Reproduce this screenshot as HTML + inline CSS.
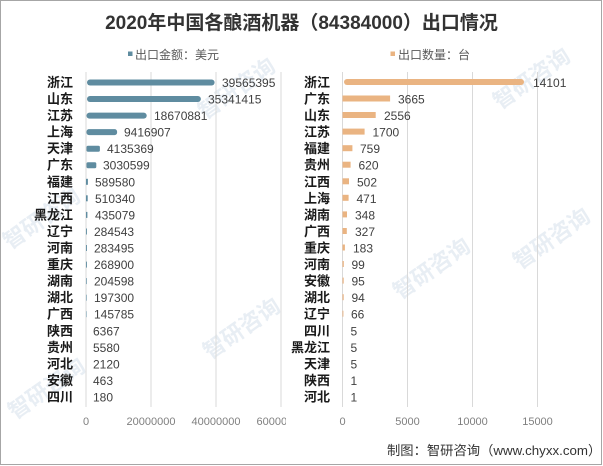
<!DOCTYPE html>
<html><head><meta charset="utf-8"><style>
html,body{margin:0;padding:0;background:#fff;}
svg{display:block;}
</style></head><body>
<svg width="603" height="466" viewBox="0 0 603 466" xmlns="http://www.w3.org/2000/svg" font-family="'Liberation Sans','Noto Sans CJK SC',sans-serif">
<rect x="0.5" y="0.5" width="601" height="464" fill="#fff" stroke="#a6a6a6" stroke-width="1"/>
<g fill="#dfe7f0" font-size="22" font-weight="bold" opacity="0.7">
<text transform="translate(205,120) rotate(-35)">智研咨询</text>
<text transform="translate(10,250) rotate(-35)">智研咨询</text>
<text transform="translate(15,420) rotate(-35)">智研咨询</text>
<text transform="translate(210,360) rotate(-35)">智研咨询</text>
<text transform="translate(400,300) rotate(-35)">智研咨询</text>
<text transform="translate(500,110) rotate(-35)">智研咨询</text>
<text transform="translate(520,270) rotate(-35)">智研咨询</text>
</g>
<text x="301.5" y="29" text-anchor="middle" font-size="19" font-weight="bold" fill="#333">2020年中国各酿酒机器（84384000）出口情况</text>
<rect x="128" y="51.5" width="4.5" height="4.5" fill="#5f8ca0"/>
<text x="135" y="59" font-size="12" fill="#595959">出口金额：美元</text>
<rect x="390.5" y="51.5" width="4.5" height="4.5" fill="#eab482"/>
<text x="398" y="59" font-size="12" fill="#595959">出口数量：台</text>
<g stroke="#d9d9d9" stroke-width="1">
<line x1="86" y1="72" x2="86" y2="407"/><line x1="151" y1="72" x2="151" y2="407"/><line x1="216" y1="72" x2="216" y2="407"/><line x1="281" y1="72" x2="281" y2="407"/>
<line x1="342.5" y1="72" x2="342.5" y2="407"/><line x1="407.5" y1="72" x2="407.5" y2="407"/><line x1="472.5" y1="72" x2="472.5" y2="407"/><line x1="537.5" y1="72" x2="537.5" y2="407"/>
</g>
<g font-size="11" fill="#7f7f7f" text-anchor="middle">
<text x="86" y="425">0</text><text x="151" y="425">20000000</text><text x="216" y="425">40000000</text>
<svg x="0" y="410" width="286" height="20" overflow="hidden"><text x="281" y="15" text-anchor="middle">60000000</text></svg>
<text x="342.5" y="425">0</text><text x="407.5" y="425">5000</text><text x="472.5" y="425">10000</text><text x="537.5" y="425">15000</text>
</g>
<g id="L"></g>
<g id="R"></g>
<text x="387" y="455" font-size="13.3" fill="#333">制图：智研咨询（www.chyxx.com）</text>
<g font-size="13" font-weight="bold" fill="#1a1a1a" text-anchor="end">
<text x="73" y="87">浙江</text><text x="73" y="103.5">山东</text><text x="73" y="120">江苏</text><text x="73" y="136.6">上海</text><text x="73" y="153.2">天津</text><text x="73" y="169.7">广东</text><text x="73" y="186.3">福建</text><text x="73" y="202.8">江西</text><text x="73" y="219.4">黑龙江</text><text x="73" y="236">辽宁</text><text x="73" y="252.5">河南</text><text x="73" y="269">重庆</text><text x="73" y="285.6">湖南</text><text x="73" y="302.2">湖北</text><text x="73" y="318.7">广西</text><text x="73" y="335.3">陕西</text><text x="73" y="351.8">贵州</text><text x="73" y="368.4">河北</text><text x="73" y="385">安徽</text><text x="73" y="401.5">四川</text>
<text x="330" y="87">浙江</text><text x="330" y="103.5">广东</text><text x="330" y="120">山东</text><text x="330" y="136.6">江苏</text><text x="330" y="153.2">福建</text><text x="330" y="169.7">贵州</text><text x="330" y="186.3">江西</text><text x="330" y="202.8">上海</text><text x="330" y="219.4">湖南</text><text x="330" y="236">广西</text><text x="330" y="252.5">重庆</text><text x="330" y="269">河南</text><text x="330" y="285.6">安徽</text><text x="330" y="302.2">湖北</text><text x="330" y="318.7">辽宁</text><text x="330" y="335.3">四川</text><text x="330" y="351.8">黑龙江</text><text x="330" y="368.4">天津</text><text x="330" y="385">陕西</text><text x="330" y="401.5">河北</text>
</g>
<!-- left bars -->
<g fill="#5f8ca0">
<rect x="87" y="79.5" width="127.6" height="6" rx="3"/>
<rect x="87" y="96" width="113.9" height="6" rx="3"/>
<rect x="86.5" y="112.6" width="60.2" height="6" rx="3"/>
<rect x="86.5" y="129.1" width="30.6" height="6" rx="2.5"/>
<rect x="86.5" y="145.7" width="13.4" height="6" rx="1.5"/>
<rect x="86.5" y="162.2" width="9.8" height="6" rx="1.5"/>
<rect x="86" y="178.8" width="1.9" height="6"/>
<rect x="86" y="195.3" width="1.7" height="6"/>
<rect x="86" y="211.9" width="1.4" height="6"/>
<rect x="86" y="228.5" width="0.9" height="6"/>
<rect x="86" y="245" width="0.9" height="6"/>
<rect x="86" y="261.6" width="0.9" height="6"/>
<rect x="86" y="278.1" width="0.7" height="6"/>
<rect x="86" y="294.7" width="0.6" height="6"/>
<rect x="86" y="311.2" width="0.5" height="6"/>
</g>
<g font-size="12" fill="#404040">
<text x="222" y="87">39565395</text><text x="208" y="103.5">35341415</text><text x="154" y="120">18670881</text><text x="124" y="136.6">9416907</text><text x="107" y="153.2">4135369</text><text x="103" y="169.7">3030599</text><text x="95" y="186.3">589580</text><text x="95" y="202.8">510340</text><text x="95" y="219.4">435079</text><text x="94" y="236">284543</text><text x="94" y="252.5">283495</text><text x="94" y="269">268900</text><text x="94" y="285.6">204598</text><text x="94" y="302.2">197300</text><text x="94" y="318.7">145785</text><text x="93" y="335.3">6367</text><text x="93" y="351.8">5580</text><text x="93" y="368.4">2120</text><text x="93" y="385">463</text><text x="93" y="401.5">180</text>
</g>
<!-- right bars -->
<g fill="#eab482">
<rect x="344" y="79" width="180" height="6" rx="3"/>
<rect x="342.5" y="95.5" width="47.6" height="6"/>
<rect x="342.5" y="112" width="33.2" height="6"/>
<rect x="342.5" y="128.6" width="22.1" height="6"/>
<rect x="342.5" y="145.2" width="9.9" height="6"/>
<rect x="342.5" y="161.7" width="8.1" height="6"/>
<rect x="342.5" y="178.3" width="6.5" height="6"/>
<rect x="342.5" y="194.8" width="6.1" height="6"/>
<rect x="342.5" y="211.4" width="4.5" height="6"/>
<rect x="342.5" y="228" width="4.3" height="6"/>
<rect x="342.5" y="244.5" width="2.4" height="6"/>
<rect x="342.5" y="261" width="1.3" height="6"/>
<rect x="342.5" y="277.6" width="1.2" height="6"/>
<rect x="342.5" y="294.2" width="1.2" height="6"/>
<rect x="342.5" y="310.7" width="0.9" height="6"/>
</g>
<g font-size="12" fill="#404040">
<text x="533" y="87">14101</text><text x="398" y="103.5">3665</text><text x="384" y="120">2556</text><text x="372.5" y="136.6">1700</text><text x="360" y="153.2">759</text><text x="358.5" y="169.7">620</text><text x="357" y="186.3">502</text><text x="356.5" y="202.8">471</text><text x="355" y="219.4">348</text><text x="355" y="236">327</text><text x="353" y="252.5">183</text><text x="351.5" y="269">99</text><text x="351.5" y="285.6">95</text><text x="351.5" y="302.2">94</text><text x="351" y="318.7">66</text><text x="350.5" y="335.3">5</text><text x="350.5" y="351.8">5</text><text x="350.5" y="368.4">5</text><text x="350.5" y="385">1</text><text x="350.5" y="401.5">1</text>
</g>
</svg>
</body></html>
